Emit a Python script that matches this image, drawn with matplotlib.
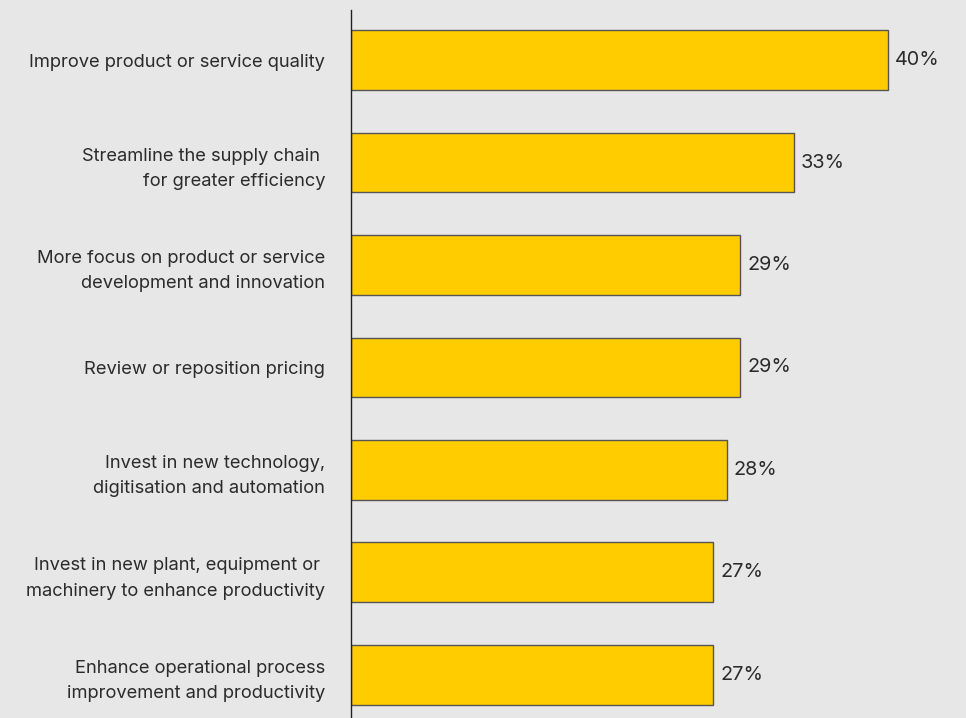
import matplotlib
matplotlib.use("Agg")
import matplotlib.pyplot as plt

categories = [
    "Improve product or service quality",
    "Streamline the supply chain \nfor greater efficiency",
    "More focus on product or service\ndevelopment and innovation",
    "Review or reposition pricing",
    "Invest in new technology,\ndigitisation and automation",
    "Invest in new plant, equipment or \nmachinery to enhance productivity",
    "Enhance operational process\nimprovement and productivity",
]
values = [40, 33, 29, 29, 28, 27, 27]
value_labels = ["40%", "33%", "29%", "29%", "28%", "27%", "27%"]

BG = "#e7e7e7"
BAR = "#ffcc00"
EDGE = "#555555"
TEXT = "#2b2b2b"

plt.rcParams["font.family"] = ["Inter", "DejaVu Sans"]

fig = plt.figure(figsize=(9.66, 7.18), dpi=100, facecolor=BG)
ax = fig.add_axes([351 / 966, 0, (966 - 351) / 966, (718 - 10) / 718])
ax.set_facecolor(BG)

pos = list(range(len(categories)))
ax.barh(pos, values, height=0.585, color=BAR, edgecolor=EDGE, linewidth=1.0)

ax.set_ylim(6.42, -0.488)
ax.set_xlim(0, (966 - 351) / (537 / 40))

for s in ["top", "right", "bottom"]:
    ax.spines[s].set_visible(False)
ax.spines["left"].set_color("#222222")
ax.spines["left"].set_linewidth(1.0)
ax.set_xticks([])
ax.set_yticks(pos)
ax.set_yticklabels(categories, fontsize=13.2, color=TEXT,
                   multialignment="right", linespacing=1.62)
ax.tick_params(axis="y", length=0, pad=18.7)

for p, v, lab in zip(pos, values, value_labels):
    ax.annotate(lab, (v, p), xytext=(5, 0), textcoords="offset points",
                va="center", ha="left", fontsize=14.3, color=TEXT)

fig.savefig("out.png", dpi=100, facecolor=BG)
